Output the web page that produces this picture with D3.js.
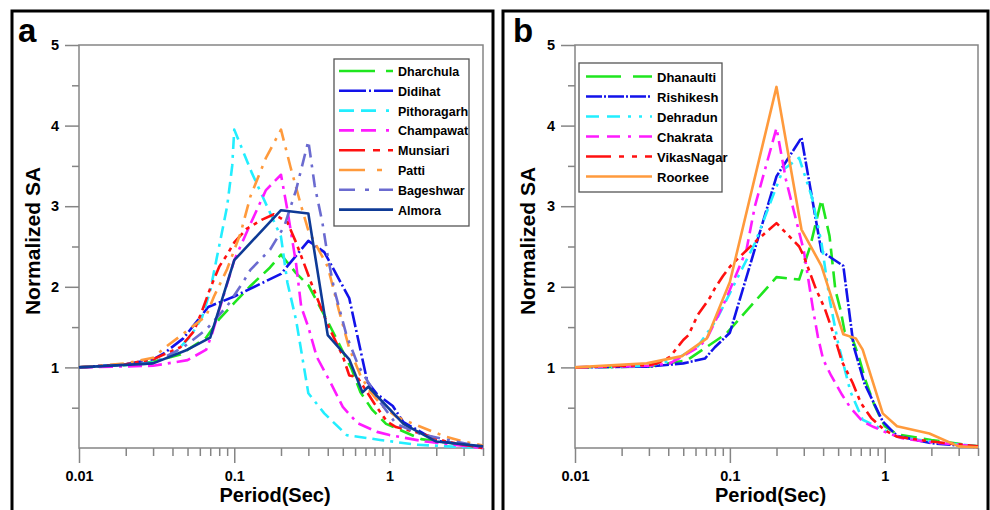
<!DOCTYPE html>
<html><head><meta charset="utf-8">
<script src="https://cdn.jsdelivr.net/npm/d3@7"></script>
<style>
body{margin:0;background:#fff}
svg{display:block}
text{font-family:"Liberation Sans",Arial,sans-serif;font-weight:bold;fill:#000}
</style>
</head><body>
<svg id="chart" width="990" height="510"></svg>
<script>
// ---------- data ----------
const periodMajorTicks = [0.01, 0.1, 1];
const periodTickLabels = ["0.01", "0.1", "1"];
const saMajorTicks = [1, 2, 3, 4, 5];
const saTickLabels = ["1", "2", "3", "4", "5"];
const xTitle = "Period(Sec)";
const yTitle = "Normalized SA";

// Panel a (Kumaon stations)
const namesA = ["Dharchula", "Didihat", "Pithoragarh", "Champawat", "Munsiari", "Patti", "Bageshwar", "Almora"];
const dharchula = [[0.01,1.0],[0.02,1.03],[0.03,1.07],[0.045,1.16],[0.066,1.37],[0.08,1.6],[0.1,1.8],[0.127,2.01],[0.17,2.24],[0.2,2.4],[0.25,2.17],[0.3,2.02],[0.4,1.57],[0.57,0.98],[0.65,0.69],[0.77,0.48],[0.95,0.3],[1.6,0.11],[4,0.01]];
const didihat = [[0.01,1.0],[0.02,1.04],[0.03,1.1],[0.035,1.17],[0.047,1.36],[0.068,1.75],[0.1,1.88],[0.2,2.16],[0.3,2.57],[0.38,2.43],[0.55,1.86],[0.72,0.82],[0.83,0.67],[1.05,0.52],[1.23,0.32],[2.0,0.09],[4,0.01]];
const pithoragarh = [[0.01,1.0],[0.02,1.03],[0.03,1.06],[0.04,1.15],[0.052,1.38],[0.062,1.62],[0.07,1.95],[0.077,2.35],[0.083,2.66],[0.09,3.0],[0.097,3.5],[0.1,3.95],[0.13,3.41],[0.2,2.62],[0.22,2.05],[0.25,1.59],[0.3,0.68],[0.38,0.43],[0.53,0.16],[0.87,0.1],[1.5,0.04],[4,0.0]];
const champawat = [[0.01,1.0],[0.03,1.02],[0.05,1.09],[0.066,1.22],[0.072,1.42],[0.1,2.33],[0.125,2.75],[0.16,3.2],[0.2,3.39],[0.22,2.95],[0.25,2.29],[0.27,1.75],[0.3,1.5],[0.34,1.13],[0.42,0.8],[0.5,0.51],[0.62,0.31],[0.83,0.2],[1.0,0.16],[1.7,0.08],[4,0.0]];
const munsiari = [[0.01,1.0],[0.02,1.04],[0.03,1.1],[0.045,1.25],[0.055,1.45],[0.062,1.7],[0.07,1.98],[0.08,2.25],[0.09,2.4],[0.1,2.55],[0.12,2.72],[0.15,2.83],[0.18,2.9],[0.2,2.85],[0.22,2.8],[0.25,2.55],[0.28,2.3],[0.32,2.0],[0.4,1.53],[0.5,1.14],[0.55,0.9],[0.62,0.88],[0.8,0.55],[0.96,0.33],[1.1,0.26],[1.6,0.18],[2.3,0.08],[4,0.0]];
const patti = [[0.01,1.0],[0.02,1.05],[0.03,1.12],[0.036,1.25],[0.045,1.39],[0.066,1.64],[0.074,1.88],[0.09,2.22],[0.11,2.67],[0.127,3.12],[0.16,3.6],[0.2,3.95],[0.23,3.49],[0.27,3.0],[0.3,2.7],[0.4,2.25],[0.47,1.72],[0.55,1.24],[0.65,0.9],[0.75,0.7],[0.9,0.52],[1.1,0.39],[1.6,0.26],[2.3,0.14],[3.0,0.08],[4,0.03]];
const bageshwar = [[0.01,1.0],[0.03,1.05],[0.047,1.25],[0.066,1.47],[0.09,1.76],[0.115,2.07],[0.127,2.21],[0.17,2.46],[0.21,2.75],[0.25,3.2],[0.3,3.81],[0.33,3.25],[0.37,2.79],[0.4,2.38],[0.44,1.97],[0.53,1.39],[0.63,1.02],[0.87,0.57],[1.1,0.3],[1.6,0.17],[4,0.01]];
const almora = [[0.01,1.0],[0.03,1.05],[0.05,1.22],[0.07,1.37],[0.1,2.33],[0.2,2.95],[0.3,2.91],[0.4,1.4],[0.55,1.1],[0.67,0.69],[0.73,0.76],[1.23,0.3],[2.0,0.08],[4,0.02]];
const seriesA = [dharchula, didihat, pithoragarh, champawat, munsiari, patti, bageshwar, almora];

// Panel b (Garhwal stations)
const namesB = ["Dhanaulti", "Rishikesh", "Dehradun", "Chakrata", "VikasNagar", "Roorkee"];
const dhanaulti = [[0.01,1.0],[0.03,1.01],[0.053,1.09],[0.095,1.42],[0.2,2.12],[0.28,2.09],[0.33,2.5],[0.39,3.08],[0.44,2.63],[0.48,1.96],[0.52,1.7],[0.55,1.45],[0.62,1.35],[0.68,1.13],[0.75,0.84],[0.85,0.55],[0.95,0.35],[1.0,0.27],[1.2,0.17],[2.0,0.1],[4,0.02]];
const rishikesh = [[0.01,1.0],[0.03,1.01],[0.05,1.05],[0.069,1.11],[0.08,1.25],[0.1,1.43],[0.2,3.37],[0.29,3.85],[0.39,2.44],[0.54,2.26],[0.63,1.26],[0.74,0.8],[0.97,0.33],[1.2,0.15],[2.0,0.06],[4,0.01]];
const dehradun = [[0.01,1.0],[0.03,1.02],[0.045,1.1],[0.062,1.26],[0.082,1.59],[0.11,2.08],[0.145,2.54],[0.22,3.45],[0.28,3.6],[0.34,3.1],[0.39,2.55],[0.44,1.85],[0.5,1.3],[0.6,0.7],[0.72,0.35],[1.0,0.22],[1.2,0.14],[2.0,0.08],[4,0.02]];
const chakrata = [[0.01,1.0],[0.03,1.02],[0.041,1.05],[0.064,1.26],[0.072,1.38],[0.094,1.84],[0.128,2.46],[0.145,3.0],[0.2,3.97],[0.23,3.33],[0.3,2.45],[0.345,1.71],[0.37,1.38],[0.4,1.1],[0.45,0.9],[0.53,0.66],[0.6,0.5],[0.72,0.33],[0.85,0.26],[1.0,0.2],[1.3,0.12],[2.0,0.07],[4,0.02]];
const vikasNagar = [[0.01,1.0],[0.03,1.03],[0.034,1.05],[0.041,1.13],[0.05,1.34],[0.054,1.4],[0.062,1.65],[0.074,1.86],[0.08,1.98],[0.09,2.13],[0.1,2.25],[0.11,2.33],[0.15,2.58],[0.2,2.79],[0.28,2.5],[0.3,2.38],[0.36,1.97],[0.41,1.73],[0.47,1.4],[0.53,1.07],[0.62,0.81],[0.7,0.56],[0.82,0.37],[1.0,0.22],[1.2,0.14],[2.0,0.08],[4,0.02]];
const roorkee = [[0.01,1.0],[0.029,1.05],[0.049,1.14],[0.071,1.36],[0.1,2.06],[0.2,4.48],[0.29,2.71],[0.39,2.26],[0.54,1.41],[0.65,1.36],[0.72,1.22],[0.97,0.43],[1.2,0.27],[1.94,0.18],[3.0,0.02],[4,0.01]];
const seriesB = [dhanaulti, rishikesh, dehradun, chakrata, vikasNagar, roorkee];

// ---------- styles ----------
const stylesA = [
  {color:"#1fe61f", dash:"15,7", leg:"36,11"},
  {color:"#1212ea", dash:"16,3,2,3", leg:"27,3,2,3"},
  {color:"#22eeff", dash:"12,6,12,6,3,6", leg:"15,7,15,10,3,10"},
  {color:"#ff1aff", dash:"14,6,14,6,3,6", leg:"15,7,15,10,3,10"},
  {color:"#ff1010", dash:"14,5,4,5,4,5", leg:"26,8,7,8,7,8"},
  {color:"#ff9a3c", dash:"14,7,3,7", leg:"26,12,5,12"},
  {color:"#6b6bd0", dash:"13,7,3,7", leg:"16,10,4,10"},
  {color:"#0e3a96", dash:null, leg:null}
];
const stylesB = [
  {color:"#1fe61f", dash:"16,7", leg:"35,12"},
  {color:"#1212ea", dash:"14,2,2,2", leg:"16,2,2,2"},
  {color:"#22eeff", dash:"12,6,12,6,3,6,3,6", leg:"13,8,13,8,3,8,3,8"},
  {color:"#ff1aff", dash:"13,6,13,6,3,6", leg:"13,8,13,8,3,8"},
  {color:"#ff1010", dash:"14,5,4,5,4,5", leg:"25,8,5,8,5,8"},
  {color:"#ff9a3c", dash:null, leg:null}
];

const svg = d3.select("#chart");
const GREY = "#858585";

function minorTicks(x0, x1) {
  const out = [];
  for (let d = 0.01; d < x1; d *= 10) {
    for (let m = 2; m <= 9; m++) {
      const v = +(m * d).toPrecision(3);
      if (v <= x1 + 1e-9) out.push(v);
    }
  }
  return out;
}

function drawPanel(opt) {
  svg.append("rect").attr("x", opt.box[0]).attr("y", opt.box[1])
    .attr("width", opt.box[2]).attr("height", opt.box[3])
    .attr("fill", "none").attr("stroke", "#000").attr("stroke-width", 3);
  svg.append("text").attr("x", opt.letterPos[0]).attr("y", opt.letterPos[1])
    .attr("font-size", 33).text(opt.letter);

  const x = d3.scaleLog().domain([0.01, 4]).range([opt.x0, opt.x1]);
  const y = d3.scaleLinear().domain([0, 5]).range([448, 45]);
  const g = svg.append("g");

  g.append("rect").attr("x", opt.x0).attr("y", y(5))
    .attr("width", opt.x1 - opt.x0).attr("height", y(0) - y(5))
    .attr("fill", "none").attr("stroke", GREY).attr("stroke-width", 1.5);

  const xMinor = g.append("g").attr("transform", `translate(0,${y(0)})`)
    .call(d3.axisBottom(x).tickValues(minorTicks(0.01, 4)).tickSize(8).tickFormat(""));
  const xMajor = g.append("g").attr("transform", `translate(0,${y(0)})`)
    .call(d3.axisBottom(x).tickValues(periodMajorTicks).tickSize(15).tickPadding(8)
      .tickFormat((d, i) => periodTickLabels[i]));
  const yMinor = g.append("g").attr("transform", `translate(${opt.x0},0)`)
    .call(d3.axisLeft(y).tickValues([0.5, 1.5, 2.5, 3.5, 4.5]).tickSize(7).tickFormat(""));
  const yMajor = g.append("g").attr("transform", `translate(${opt.x0},0)`)
    .call(d3.axisLeft(y).tickValues(saMajorTicks).tickSize(14).tickPadding(6)
      .tickFormat((d, i) => saTickLabels[i]));
  [xMinor, xMajor, yMinor, yMajor].forEach(a => {
    a.select(".domain").remove();
    a.selectAll(".tick line").attr("stroke", GREY).attr("stroke-width", 1.5);
    a.selectAll(".tick text").attr("font-size", 14.5).attr("fill", "#000")
      .attr("font-family", "'Liberation Sans',Arial,sans-serif").attr("font-weight", "bold");
  });

  g.append("text").attr("x", (opt.x0 + opt.x1) / 2 - 6).attr("y", 502)
    .attr("text-anchor", "middle").attr("font-size", 20).text(xTitle);
  g.append("text").attr("transform", `translate(${opt.yTitleX},241) rotate(-90)`)
    .attr("text-anchor", "middle").attr("font-size", 21).text(yTitle);

  const line = d3.line().x(d => x(d[0])).y(d => y(d[1]));
  opt.series.forEach((s, i) => {
    const st = opt.styles[i];
    g.append("path").datum(s).attr("d", line)
      .attr("fill", "none").attr("stroke", st.color).attr("stroke-width", 2.6)
      .attr("stroke-linejoin", "round")
      .attr("stroke-dasharray", st.dash);
  });

  const L = opt.legend;
  const lg = svg.append("g");
  lg.append("rect").attr("x", L.x).attr("y", L.y).attr("width", L.w).attr("height", L.h)
    .attr("fill", "#fff").attr("stroke", "#555").attr("stroke-width", 1.3);
  opt.names.forEach((n, i) => {
    const yy = L.firstY + i * L.step;
    lg.append("line").attr("x1", L.lx1).attr("x2", L.lx2).attr("y1", yy).attr("y2", yy)
      .attr("stroke", opt.styles[i].color).attr("stroke-width", 2.6)
      .attr("stroke-dasharray", opt.styles[i].leg);
    lg.append("text").attr("x", L.tx).attr("y", yy + 5).attr("font-size", L.fs).text(n);
  });
}

drawPanel({
  box: [12, 11, 481, 520], letter: "a", letterPos: [18, 42],
  x0: 79, x1: 483, yTitleX: 40,
  series: seriesA, styles: stylesA, names: namesA,
  legend: {x: 334, y: 59, w: 135, h: 167, firstY: 71, step: 19.8, lx1: 339, lx2: 393, tx: 398, fs: 12.5}
});
drawPanel({
  box: [503, 11, 485, 520], letter: "b", letterPos: [513, 42],
  x0: 575, x1: 978, yTitleX: 535,
  series: seriesB, styles: stylesB, names: namesB,
  legend: {x: 579, y: 63, w: 143, h: 129, firstY: 76.5, step: 20, lx1: 586, lx2: 652, tx: 657, fs: 13}
});
</script>
</body></html>
